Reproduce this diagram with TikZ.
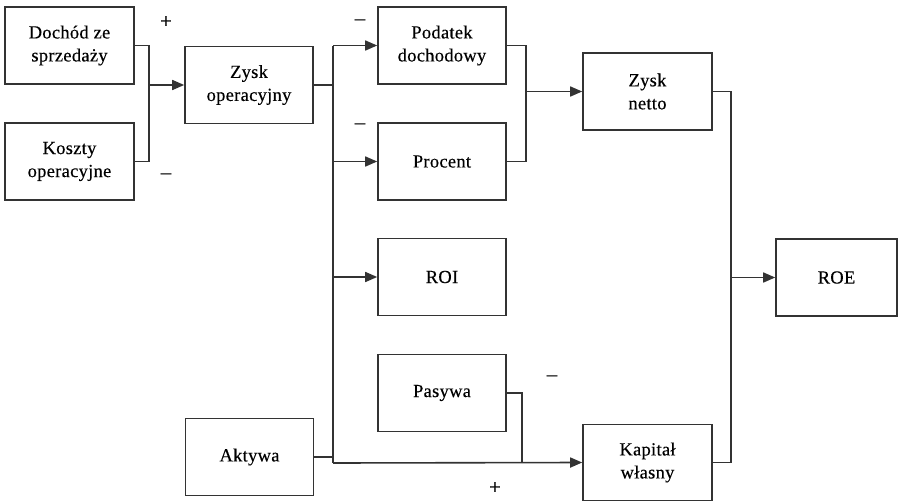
\documentclass[tikz,border=0pt]{standalone}
\usepackage{fontspec}
\setmainfont{Liberation Serif}[LetterSpace=1.5,FakeBold=0.3]
\usetikzlibrary{arrows.meta}
\definecolor{ln}{HTML}{333333}
\tikzset{
  box/.style={draw=ln, line width=1.6pt, minimum width=129pt, minimum height=77pt, inner sep=0pt, align=center, font=\fontsize{18.5}{23}\selectfont},
  wire/.style={draw=ln, line width=1.6pt},
  arr/.style={wire, -{Triangle[length=12pt,width=10pt]}},
  sign/.style={font=\fontsize{21}{22}\selectfont, inner sep=0pt}
}
\begin{document}
\begin{tikzpicture}[x=1pt,y=-1pt]
\useasboundingbox (0,0) rectangle (898,501);
\node[box] (dochod) at (69.5,45.5) {Dochód ze\\sprzedaży};
\node[box] (koszty) at (69.5,161.5) {Koszty\\operacyjne};
\node[box, minimum width=128pt] (zyskop) at (249,85) {Zysk\\operacyjny};
\node[box, minimum width=128pt] (podatek) at (442,45.5) {Podatek\\dochodowy};
\node[box, minimum width=128pt] (procent) at (442,161.5) {Procent};
\node[box, minimum width=128pt] (roi) at (442,277) {ROI};
\node[box] (zysknetto) at (647.5,91.5) {Zysk\\netto};
\node[box, minimum width=121pt] (roe) at (836.5,277.5) {ROE};
\node[box, minimum width=128pt] (pasywa) at (442,393) {Pasywa};
\node[box, minimum width=128pt] (aktywa) at (249.5,457) {Aktywa};
\node[box, minimum height=76pt] (kapital) at (647.5,462.5) {Kapitał\\własny};

\coordinate (j1) at (149,85);
\coordinate (bus) at (333,463);
\coordinate (j2) at (526,91.5);
\coordinate (j3) at (731,277.5);
\coordinate (j4) at (522,463);

% Dochod / Koszty -> Zysk operacyjny
\draw[wire] (dochod.east) -| (j1) |- (koszty.east);
\draw[arr] (j1) -- (zyskop.west);

% Zysk operacyjny bus
\draw[wire] (zyskop.east) -- (zyskop.east -| bus);
\draw[wire] (bus |- podatek.west) -- (bus);
\draw[arr] (bus |- podatek.west) -- (podatek.west);
\draw[arr] (bus |- procent.west) -- (procent.west);
\draw[arr] (bus |- roi.west) -- (roi.west);
\draw[wire] (aktywa.east) -- (aktywa.east -| bus);
\draw[arr] (bus) -- (kapital.west);

% Pasywa
\draw[wire] (pasywa.east) -| (j4);

% Podatek / Procent -> Zysk netto
\draw[wire] (podatek.east) -| (j2) |- (procent.east);
\draw[arr] (j2) -- (zysknetto.west);

% Zysk netto / Kapital -> ROE
\draw[wire] (zysknetto.east) -| (j3) |- (kapital.east);
\draw[arr] (j3) -- (roe.west);

% signs
\node[sign] (s1) at (166,22) {+};
\node[sign] (s2) at (166,176) {–};
\node[sign] (s3) at (360,22) {–};
\node[sign] (s4) at (360,126) {–};
\node[sign] (s5) at (552,378) {–};
\node[sign] (s6) at (495,488) {+};
\end{tikzpicture}
\end{document}
